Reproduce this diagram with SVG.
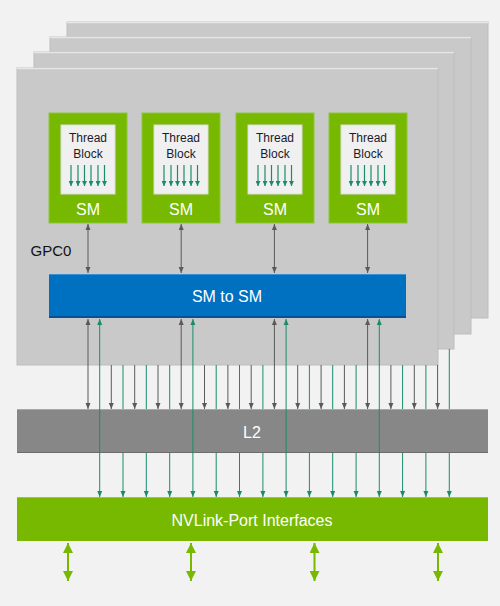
<svg xmlns="http://www.w3.org/2000/svg" width="500" height="606" viewBox="0 0 500 606">
<style>
.panel{fill:#c9c9c9;stroke:#bdbdbd;stroke-width:1}
.ptop{stroke:#e6e6e6;stroke-width:1.5}
.sm{fill:#76b900;stroke:#8cc83a;stroke-width:1}
.tb{fill:#f0f0f0;stroke:#dcdcdc;stroke-width:1}
.t{font-family:"Liberation Sans",Arial,sans-serif;text-anchor:middle}
.tbt{font-size:12px;fill:#1a1a2a}
.wt{font-size:16px;fill:#ffffff}
.gl{stroke:#5a5a5a;stroke-width:1;fill:none}
.gr{stroke:#1a8c6c;stroke-width:1;fill:none}
.ta{stroke:#1a8c6c;stroke-width:1.2;fill:none}
.ba{stroke:#76b900;stroke-width:2;fill:none}
</style>
<defs>
<marker id="ag" viewBox="0 0 6 6" refX="6" refY="3" markerWidth="6" markerHeight="6" markerUnits="userSpaceOnUse" orient="auto-start-reverse"><path d="M0,0.5 L6,3 L0,5.5 z" fill="#5a5a5a"/></marker>
<marker id="at" viewBox="0 0 6 6" refX="6" refY="3" markerWidth="6" markerHeight="6" markerUnits="userSpaceOnUse" orient="auto-start-reverse"><path d="M0,0.5 L6,3 L0,5.5 z" fill="#1a8c6c"/></marker>
<marker id="att" viewBox="0 0 6 6" refX="6" refY="3" markerWidth="5" markerHeight="5" markerUnits="userSpaceOnUse" orient="auto"><path d="M0,0 L6,3 L0,6 z" fill="#1a8c6c"/></marker>
<marker id="ab" viewBox="0 0 10 10" refX="10" refY="5" markerWidth="10" markerHeight="10" markerUnits="userSpaceOnUse" orient="auto-start-reverse"><path d="M0,0 L10,5 L0,10 z" fill="#76b900"/></marker>
<g id="tbarrows">
<line class="ta" x1="-17" y1="0" x2="-17" y2="21" marker-end="url(#att)"/>
<line class="ta" x1="-10" y1="0" x2="-10" y2="21" marker-end="url(#att)"/>
<line class="ta" x1="-3.5" y1="0" x2="-3.5" y2="21" marker-end="url(#att)"/>
<line class="ta" x1="3" y1="0" x2="3" y2="21" marker-end="url(#att)"/>
<line class="ta" x1="10" y1="0" x2="10" y2="21" marker-end="url(#att)"/>
<line class="ta" x1="16.5" y1="0" x2="16.5" y2="21" marker-end="url(#att)"/>
</g>
</defs>
<rect width="500" height="606" fill="#f2f2f2"/>

<g id="gpc-panels">
<rect class="panel" x="67" y="22" width="421" height="296"/><line class="ptop" x1="67" y1="22.5" x2="488" y2="22.5"/>
<rect class="panel" x="50" y="37" width="421" height="297"/><line class="ptop" x1="50" y1="37.5" x2="471" y2="37.5"/>
<rect class="panel" x="34" y="52" width="420" height="297"/><line class="ptop" x1="34" y1="52.5" x2="454" y2="52.5"/>
<rect class="panel" x="17" y="68" width="421" height="297"/><line class="ptop" x1="17" y1="68.5" x2="438" y2="68.5"/>
</g>

<g id="gpc0-label"><text class="t" x="51" y="256" font-size="15" fill="#111">GPC0</text></g>

<g id="sm0">
<rect class="sm" x="49" y="113" width="78" height="110"/>
<rect class="tb" x="61" y="125" width="54" height="69"/>
<text class="t tbt" x="88" y="142">Thread</text><text class="t tbt" x="88" y="158">Block</text>
<use href="#tbarrows" x="88" y="165"/>
<text class="t wt" x="88" y="215">SM</text>
</g>
<g id="sm1">
<rect class="sm" x="142" y="113" width="78" height="110"/>
<rect class="tb" x="154" y="125" width="54" height="69"/>
<text class="t tbt" x="181" y="142">Thread</text><text class="t tbt" x="181" y="158">Block</text>
<use href="#tbarrows" x="181" y="165"/>
<text class="t wt" x="181" y="215">SM</text>
</g>
<g id="sm2">
<rect class="sm" x="236" y="113" width="78" height="110"/>
<rect class="tb" x="248" y="125" width="54" height="69"/>
<text class="t tbt" x="275" y="142">Thread</text><text class="t tbt" x="275" y="158">Block</text>
<use href="#tbarrows" x="275" y="165"/>
<text class="t wt" x="275" y="215">SM</text>
</g>
<g id="sm3">
<rect class="sm" x="329" y="113" width="78" height="110"/>
<rect class="tb" x="341" y="125" width="54" height="69"/>
<text class="t tbt" x="368" y="142">Thread</text><text class="t tbt" x="368" y="158">Block</text>
<use href="#tbarrows" x="368" y="165"/>
<text class="t wt" x="368" y="215">SM</text>
</g>

<g id="sm-to-sm">
<rect x="49" y="274" width="357" height="44" fill="#0070c0"/>
<line x1="49" y1="274.5" x2="406" y2="274.5" stroke="#3a90d4" stroke-width="1"/>
<line x1="49" y1="317" x2="406" y2="317" stroke="#0a4f98" stroke-width="2"/>
<text class="t wt" x="227" y="302">SM to SM</text>
</g>

<g id="l2">
<rect x="17" y="409" width="471" height="44" fill="#878787"/>
<line x1="17" y1="409.5" x2="488" y2="409.5" stroke="#a8a8a8" stroke-width="1"/>
<line x1="17" y1="452.5" x2="488" y2="452.5" stroke="#6c6c6c" stroke-width="1"/>
<text class="t wt" x="252" y="438">L2</text>
</g>

<g id="nvlink">
<rect x="17" y="497" width="471" height="44" fill="#76b900"/>
<line x1="17" y1="497.5" x2="488" y2="497.5" stroke="#94cc3c" stroke-width="1"/>
<text class="t wt" x="252" y="526">NVLink-Port Interfaces</text>
</g>

<g id="connectors">
<!-- SM to SM-to-SM -->
<line class="gl" x1="88" y1="224" x2="88" y2="273" marker-start="url(#ag)" marker-end="url(#ag)"/>
<line class="gl" x1="181.2" y1="224" x2="181.2" y2="273" marker-start="url(#ag)" marker-end="url(#ag)"/>
<line class="gl" x1="274.4" y1="224" x2="274.4" y2="273" marker-start="url(#ag)" marker-end="url(#ag)"/>
<line class="gl" x1="367.6" y1="224" x2="367.6" y2="273" marker-start="url(#ag)" marker-end="url(#ag)"/>
<!-- SM-to-SM to L2 -->
<line class="gl" x1="88" y1="319" x2="88" y2="409" marker-start="url(#ag)" marker-end="url(#ag)"/>
<line class="gl" x1="181.2" y1="319" x2="181.2" y2="409" marker-start="url(#ag)" marker-end="url(#ag)"/>
<line class="gl" x1="274.4" y1="319" x2="274.4" y2="409" marker-start="url(#ag)" marker-end="url(#ag)"/>
<line class="gl" x1="367.6" y1="319" x2="367.6" y2="409" marker-start="url(#ag)" marker-end="url(#ag)"/>
<!-- GPC to L2 short gray -->
<line class="gl" x1="111.3" y1="365" x2="111.3" y2="409" marker-end="url(#ag)"/>
<line class="gl" x1="134.7" y1="365" x2="134.7" y2="409" marker-end="url(#ag)"/>
<line class="gl" x1="158" y1="365" x2="158" y2="409" marker-end="url(#ag)"/>
<line class="gl" x1="204.5" y1="365" x2="204.5" y2="409" marker-end="url(#ag)"/>
<line class="gl" x1="227.9" y1="365" x2="227.9" y2="409" marker-end="url(#ag)"/>
<line class="gl" x1="251.2" y1="365" x2="251.2" y2="409" marker-end="url(#ag)"/>
<line class="gl" x1="297.7" y1="365" x2="297.7" y2="409" marker-end="url(#ag)"/>
<line class="gl" x1="321.1" y1="365" x2="321.1" y2="409" marker-end="url(#ag)"/>
<line class="gl" x1="344.4" y1="365" x2="344.4" y2="409" marker-end="url(#ag)"/>
<line class="gl" x1="390.9" y1="365" x2="390.9" y2="409" marker-end="url(#ag)"/>
<line class="gl" x1="414.3" y1="365" x2="414.3" y2="409" marker-end="url(#ag)"/>
<line class="gl" x1="437.6" y1="365" x2="437.6" y2="409" marker-end="url(#ag)"/>
<!-- GPC to L2 short green -->
<line class="gr" x1="123" y1="365" x2="123" y2="409"/>
<line class="gr" x1="146.3" y1="365" x2="146.3" y2="409"/>
<line class="gr" x1="169.7" y1="365" x2="169.7" y2="409"/>
<line class="gr" x1="216.2" y1="365" x2="216.2" y2="409"/>
<line class="gr" x1="239.5" y1="365" x2="239.5" y2="409"/>
<line class="gr" x1="262.9" y1="365" x2="262.9" y2="409"/>
<line class="gr" x1="309.4" y1="365" x2="309.4" y2="409"/>
<line class="gr" x1="332.7" y1="365" x2="332.7" y2="409"/>
<line class="gr" x1="356.1" y1="365" x2="356.1" y2="409"/>
<line class="gr" x1="402.6" y1="365" x2="402.6" y2="409"/>
<line class="gr" x1="425.9" y1="365" x2="425.9" y2="409"/>
<line class="gr" x1="449.3" y1="349" x2="449.3" y2="409"/>
<!-- long green SM-to-SM to NVLink -->
<line class="gr" x1="99.7" y1="319" x2="99.7" y2="497" marker-start="url(#at)" marker-end="url(#at)"/>
<line class="gr" x1="192.9" y1="319" x2="192.9" y2="497" marker-start="url(#at)" marker-end="url(#at)"/>
<line class="gr" x1="286.1" y1="319" x2="286.1" y2="497" marker-start="url(#at)" marker-end="url(#at)"/>
<line class="gr" x1="379.3" y1="319" x2="379.3" y2="497" marker-start="url(#at)" marker-end="url(#at)"/>
<!-- L2 to NVLink green -->
<line class="gr" x1="123" y1="453" x2="123" y2="497" marker-end="url(#at)"/>
<line class="gr" x1="146.3" y1="453" x2="146.3" y2="497" marker-end="url(#at)"/>
<line class="gr" x1="169.7" y1="453" x2="169.7" y2="497" marker-end="url(#at)"/>
<line class="gr" x1="216.2" y1="453" x2="216.2" y2="497" marker-end="url(#at)"/>
<line class="gr" x1="239.5" y1="453" x2="239.5" y2="497" marker-end="url(#at)"/>
<line class="gr" x1="262.9" y1="453" x2="262.9" y2="497" marker-end="url(#at)"/>
<line class="gr" x1="309.4" y1="453" x2="309.4" y2="497" marker-end="url(#at)"/>
<line class="gr" x1="332.7" y1="453" x2="332.7" y2="497" marker-end="url(#at)"/>
<line class="gr" x1="356.1" y1="453" x2="356.1" y2="497" marker-end="url(#at)"/>
<line class="gr" x1="402.6" y1="453" x2="402.6" y2="497" marker-end="url(#at)"/>
<line class="gr" x1="425.9" y1="453" x2="425.9" y2="497" marker-end="url(#at)"/>
<line class="gr" x1="449.3" y1="453" x2="449.3" y2="497" marker-end="url(#at)"/>
<!-- NVLink external -->
<line class="ba" x1="68" y1="543" x2="68" y2="581" marker-start="url(#ab)" marker-end="url(#ab)"/>
<line class="ba" x1="191" y1="543" x2="191" y2="581" marker-start="url(#ab)" marker-end="url(#ab)"/>
<line class="ba" x1="314.5" y1="543" x2="314.5" y2="581" marker-start="url(#ab)" marker-end="url(#ab)"/>
<line class="ba" x1="438" y1="543" x2="438" y2="581" marker-start="url(#ab)" marker-end="url(#ab)"/>
</g>
</svg>
